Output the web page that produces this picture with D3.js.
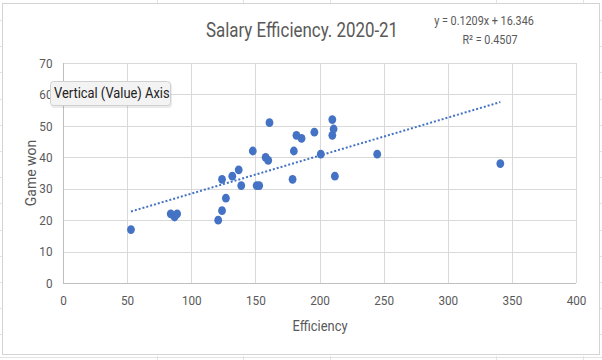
<!DOCTYPE html>
<html>
<head>
<meta charset="utf-8">
<script src="https://cdn.jsdelivr.net/npm/d3@7"></script>
<style>
  body { margin: 0; background: #fff; }
  svg { display: block; }
  text { font-family: "Roboto", "Liberation Sans", sans-serif; }
</style>
</head>
<body>
<div id="chart"></div>
<script>
// values
var efficiency = [53, 84, 87, 89, 121, 124, 124, 127, 132, 137, 139, 148, 151, 153, 158,
  160, 161, 179, 180, 182, 186, 196, 201, 210, 211, 210, 212, 245, 341];
var gamesWon = [17, 22, 21, 22, 20, 23, 33, 27, 34, 36, 31, 42, 31, 31, 40,
  39, 51, 33, 42, 47, 46, 48, 41, 52, 49, 47, 34, 41, 38];
var xTicks = [0, 50, 100, 150, 200, 250, 300, 350, 400];
var yTicks = [0, 10, 20, 30, 40, 50, 60, 70];
var trendSlope = 0.1209,
  trendIntercept = 16.346,
  rSquared = 0.4507;

var width = 602,
  height = 360,
  margin = {top: 63, right: 26, bottom: 77, left: 63},
  blue = "#4472c4",
  grey = "#595959",
  gridColor = "#d9d9d9";

// Calibri-ish look: squeeze Roboto sideways
function squeeze(sel, k) {
  sel.each(function() {
    var len = this.getComputedTextLength();
    d3.select(this)
      .attr("textLength", len * k)
      .attr("lengthAdjust", "spacingAndGlyphs");
  });
}

var svg = d3.select("#chart").append("svg")
  .attr("width", width)
  .attr("height", height);

// spreadsheet cells peeking round the chart
var sheet = svg.append("g").attr("stroke", "#e3e3e3").attr("stroke-width", 1);
[157, 243, 330, 496, 583].forEach(function(x) {
  sheet.append("line").attr("x1", x + .5).attr("x2", x + .5).attr("y1", 0).attr("y2", 3);
  sheet.append("line").attr("x1", x + .5).attr("x2", x + .5).attr("y1", 356).attr("y2", 360);
});
d3.range(20, 345, 26.2).forEach(function(y) {
  sheet.append("line").attr("x1", 0).attr("x2", 2).attr("y1", Math.round(y) + .5).attr("y2", Math.round(y) + .5);
  sheet.append("line").attr("x1", 600).attr("x2", 602).attr("y1", Math.round(y) + .5).attr("y2", Math.round(y) + .5);
});

// chart area
svg.append("rect")
  .attr("x", 2.5).attr("y", 3.5)
  .attr("width", 597).attr("height", 351)
  .attr("fill", "#fff")
  .attr("stroke", "#d4d4d4");
svg.append("line")
  .attr("x1", 0).attr("x2", 602)
  .attr("y1", 357.5).attr("y2", 357.5)
  .attr("stroke", "#e3e3e3");

var x = d3.scaleLinear().domain([0, 400]).range([margin.left, width - margin.right]),
  y = d3.scaleLinear().domain([0, 70]).range([height - margin.bottom, margin.top]);

var g = svg.append("g");

// gridlines
g.selectAll(".hgrid")
  .data(yTicks.slice(1))
  .enter().append("line")
  .attr("x1", x(0)).attr("x2", x(400))
  .attr("y1", d => Math.round(y(d)) + .5)
  .attr("y2", d => Math.round(y(d)) + .5)
  .attr("stroke", gridColor);

g.selectAll(".vgrid")
  .data(xTicks.slice(1))
  .enter().append("line")
  .attr("y1", y(0)).attr("y2", y(70))
  .attr("x1", d => Math.round(x(d)) + .5)
  .attr("x2", d => Math.round(x(d)) + .5)
  .attr("stroke", gridColor);

// axes
var xAxis = g.append("g")
  .attr("transform", "translate(0," + (Math.round(y(0)) + .5) + ")")
  .call(d3.axisBottom(x).tickValues(xTicks).tickSize(0).tickPadding(12));
var yAxis = g.append("g")
  .attr("transform", "translate(" + (Math.round(x(0)) + .5) + ",0)")
  .call(d3.axisLeft(y).tickValues(yTicks).tickSize(0).tickPadding(11));

xAxis.select(".domain").attr("stroke", "#bfbfbf").attr("d", "M" + x(0) + ",0H" + x(400));
yAxis.select(".domain").attr("stroke", "#bfbfbf").attr("d", "M0," + y(0) + "V" + y(70));
[xAxis, yAxis].forEach(function(a) {
  a.selectAll("text")
    .attr("fill", grey)
    .style("font-size", "13px")
    .style("font-family", "Roboto, sans-serif")
    .call(squeeze, .9);
});

// trendline over the data range
var trend = d3.extent(efficiency).map(function(v) {
  return [v, trendSlope * v + trendIntercept];
});
g.append("path")
  .datum(trend)
  .attr("d", d3.line().x(d => x(d[0])).y(d => y(d[1])))
  .attr("fill", "none")
  .attr("stroke", blue)
  .attr("stroke-width", 2)
  .attr("stroke-dasharray", "2,2");

// points
g.selectAll(".dot")
  .data(efficiency)
  .enter().append("ellipse")
  .attr("cx", d => x(d))
  .attr("cy", (d, i) => y(gamesWon[i]))
  .attr("rx", 3.9)
  .attr("ry", 4.4)
  .attr("fill", blue);

// titles
svg.append("text")
  .attr("x", 302).attr("y", 37)
  .attr("text-anchor", "middle")
  .attr("fill", grey)
  .style("font-size", "20px")
  .text("Salary Efficiency. 2020-21")
  .call(squeeze, .845);

var eq = svg.append("text")
  .attr("text-anchor", "middle")
  .attr("fill", grey)
  .style("font-size", "12px");
eq.append("tspan").attr("x", 484).attr("y", 25)
  .text("y = " + trendSlope + "x + " + trendIntercept);
eq.append("tspan").attr("x", 490).attr("y", 44)
  .text("R² = " + rSquared);
eq.selectAll("tspan").call(squeeze, .9);

svg.append("text")
  .attr("x", 320).attr("y", 331)
  .attr("text-anchor", "middle")
  .attr("fill", grey)
  .style("font-size", "15px")
  .text("Efficiency")
  .call(squeeze, .86);

svg.append("text")
  .attr("transform", "translate(36," + y(35) + ") rotate(-90)")
  .attr("text-anchor", "middle")
  .attr("fill", grey)
  .style("font-size", "15px")
  .text("Game won")
  .call(squeeze, .93);

// hover tooltip over the value axis
var tip = svg.append("g").attr("transform", "translate(50,81)");
tip.append("rect")
  .attr("x", 1).attr("y", 2)
  .attr("width", 121).attr("height", 25)
  .attr("rx", 3)
  .attr("fill", "#000").attr("opacity", .08);
tip.append("rect")
  .attr("x", .5).attr("y", .5)
  .attr("width", 120).attr("height", 24)
  .attr("rx", 3)
  .attr("fill", "#f3f3f3")
  .attr("stroke", "#d0d0d0");
tip.append("text")
  .attr("x", 4).attr("y", 17)
  .attr("fill", "#222")
  .style("font-size", "14px")
  .text("Vertical (Value) Axis")
  .call(squeeze, .92);
</script>
</body>
</html>
